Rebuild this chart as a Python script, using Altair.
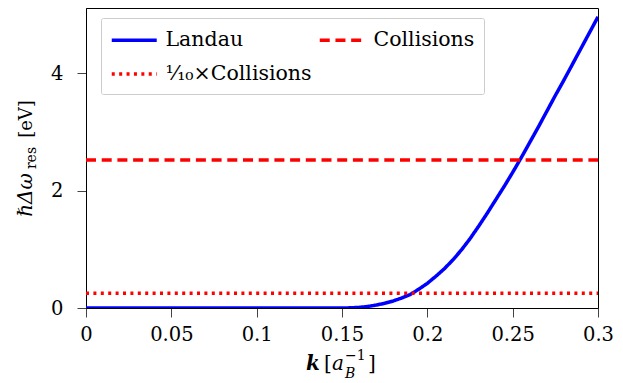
import altair as alt
import pandas as pd

# ---- data ----
k_vals = [0.0, 0.05, 0.10, 0.15, 0.155, 0.16, 0.165, 0.17, 0.175, 0.18, 0.185, 0.19,
          0.195, 0.20, 0.205, 0.21, 0.215, 0.22, 0.225, 0.23, 0.235, 0.24, 0.245,
          0.25, 0.255, 0.26, 0.265, 0.27, 0.275, 0.28, 0.285, 0.29, 0.295, 0.30]
landau = [0, 0, 0, 0, 0.003, 0.01, 0.025, 0.05, 0.08, 0.12, 0.17, 0.23,
          0.32, 0.42, 0.54, 0.67, 0.82, 0.99, 1.18, 1.39, 1.61, 1.84, 2.07,
          2.31, 2.56, 2.82, 3.08, 3.35, 3.62, 3.88, 4.15, 4.42, 4.69, 4.96]
k_range = [0.0, 0.30]
collisions_level = [2.52, 2.52]
tenth_level = [0.252, 0.252]

series_names = ["Landau", "Collisions", "\u00b9\u2044\u2081\u2080\u00d7Collisions"]
series_colors = ["#0000ff", "#ff0000", "#ff0000"]
series_dashes = [[1, 0], [10, 5.7], [3, 4.4]]

x_ticks = [0, 0.05, 0.1, 0.15, 0.2, 0.25, 0.3]
y_ticks = [0, 2, 4]

FONT = "DejaVu Serif"

rows = []
for k, v in zip(k_vals, landau):
    rows.append({"series": series_names[0], "k": k, "v": v})
for k, v in zip(k_range, collisions_level):
    rows.append({"series": series_names[1], "k": k, "v": v})
for k, v in zip(k_range, tenth_level):
    rows.append({"series": series_names[2], "k": k, "v": v})
df = pd.DataFrame(rows)

W, H = 512, 300

legend = alt.Legend(orient="none", legendX=15, legendY=10, columns=2,
                    direction="horizontal", title=None,
                    columnPadding=0, rowPadding=10, padding=9,
                    symbolType="M-1,0H3", symbolSize=506,
                    symbolStrokeWidth=3.5, labelOffset=29.5,
                    symbolFillColor="transparent",
                    labelFont=FONT, labelFontSize=20.5, labelColor="black",
                    strokeColor="#cccccc", fillColor="white",
                    cornerRadius=2, labelLimit=400)

lines = alt.Chart(df).mark_line(strokeWidth=3.5, strokeCap="butt", clip=True).encode(
    x=alt.X("k:Q", scale=alt.Scale(domain=[0, 0.3], nice=False, zero=False),
            axis=alt.Axis(values=x_ticks, format=".2~f", title=None, grid=False,
                          tickSize=9, labelPadding=8, labelFont=FONT, labelFontSize=19.5,
                          labelColor="black", domainColor="black", tickColor="#444",
                          labelFlush=False)),
    y=alt.Y("v:Q", scale=alt.Scale(domain=[0, 5.11], nice=False),
            axis=alt.Axis(values=y_ticks, title=None, grid=False, tickSize=9,
                          labelPadding=14, labelFont=FONT, labelFontSize=19.5,
                          labelColor="black", domainColor="black", tickColor="#444")),
    color=alt.Color("series:N", scale=alt.Scale(domain=series_names, range=series_colors),
                    title=None, legend=legend),
    strokeDash=alt.StrokeDash("series:N", scale=alt.Scale(domain=series_names, range=series_dashes),
                              title=None, legend=legend),
    detail="series:N",
)

one = alt.Data(values=[{"a": 1}])

def txt(s, x, y, size=20, style="normal", weight="normal", angle=0, align="left"):
    return alt.Chart(one).mark_text(
        text=s, font=FONT, fontSize=size, fontStyle=style, fontWeight=weight,
        angle=angle, align=align, baseline="alphabetic", color="black"
    ).encode(x=alt.value(x), y=alt.value(y))

# x-axis title pieces: k [a_B^{-1}]
xt_k = "k"
xt_open = "["
xt_a = "a"
xt_sub = "B"
xt_sup = "\u22121"
xt_close = "]"
# y-axis title pieces: ħΔω_res [eV]
yt_main = "\u210f\u0394\u03c9"
yt_sub = "res"
yt_unit = "[eV]"

titles = [
    txt(xt_k, 220, 362, style="italic", weight="bold"),
    txt(xt_open, 238, 362),
    txt(xt_a, 246, 362, style="italic"),
    txt(xt_sub, 259, 370, size=14, style="italic"),
    txt(xt_sup, 259, 352, size=14),
    txt(xt_close, 282, 362),
    txt(yt_main, -54, 187, style="italic", angle=270, align="center"),
    txt(yt_sub, -50, 150, size=14, angle=270, align="center"),
    txt(yt_unit, -54, 111, size=18, angle=270, align="center"),
]

chart = alt.layer(lines, *titles).properties(
    width=W, height=H,
    autosize=alt.AutoSizeParams(type="none"),
    padding={"left": 86, "top": 8, "right": 25, "bottom": 75},
).configure(
    background="white", font=FONT
).configure_view(
    stroke="black", strokeWidth=1
).configure_legend(
    labelFont=FONT, labelFontSize=20.5
)

chart.save("out.html", embed_options={"renderer": "svg", "actions": False})
